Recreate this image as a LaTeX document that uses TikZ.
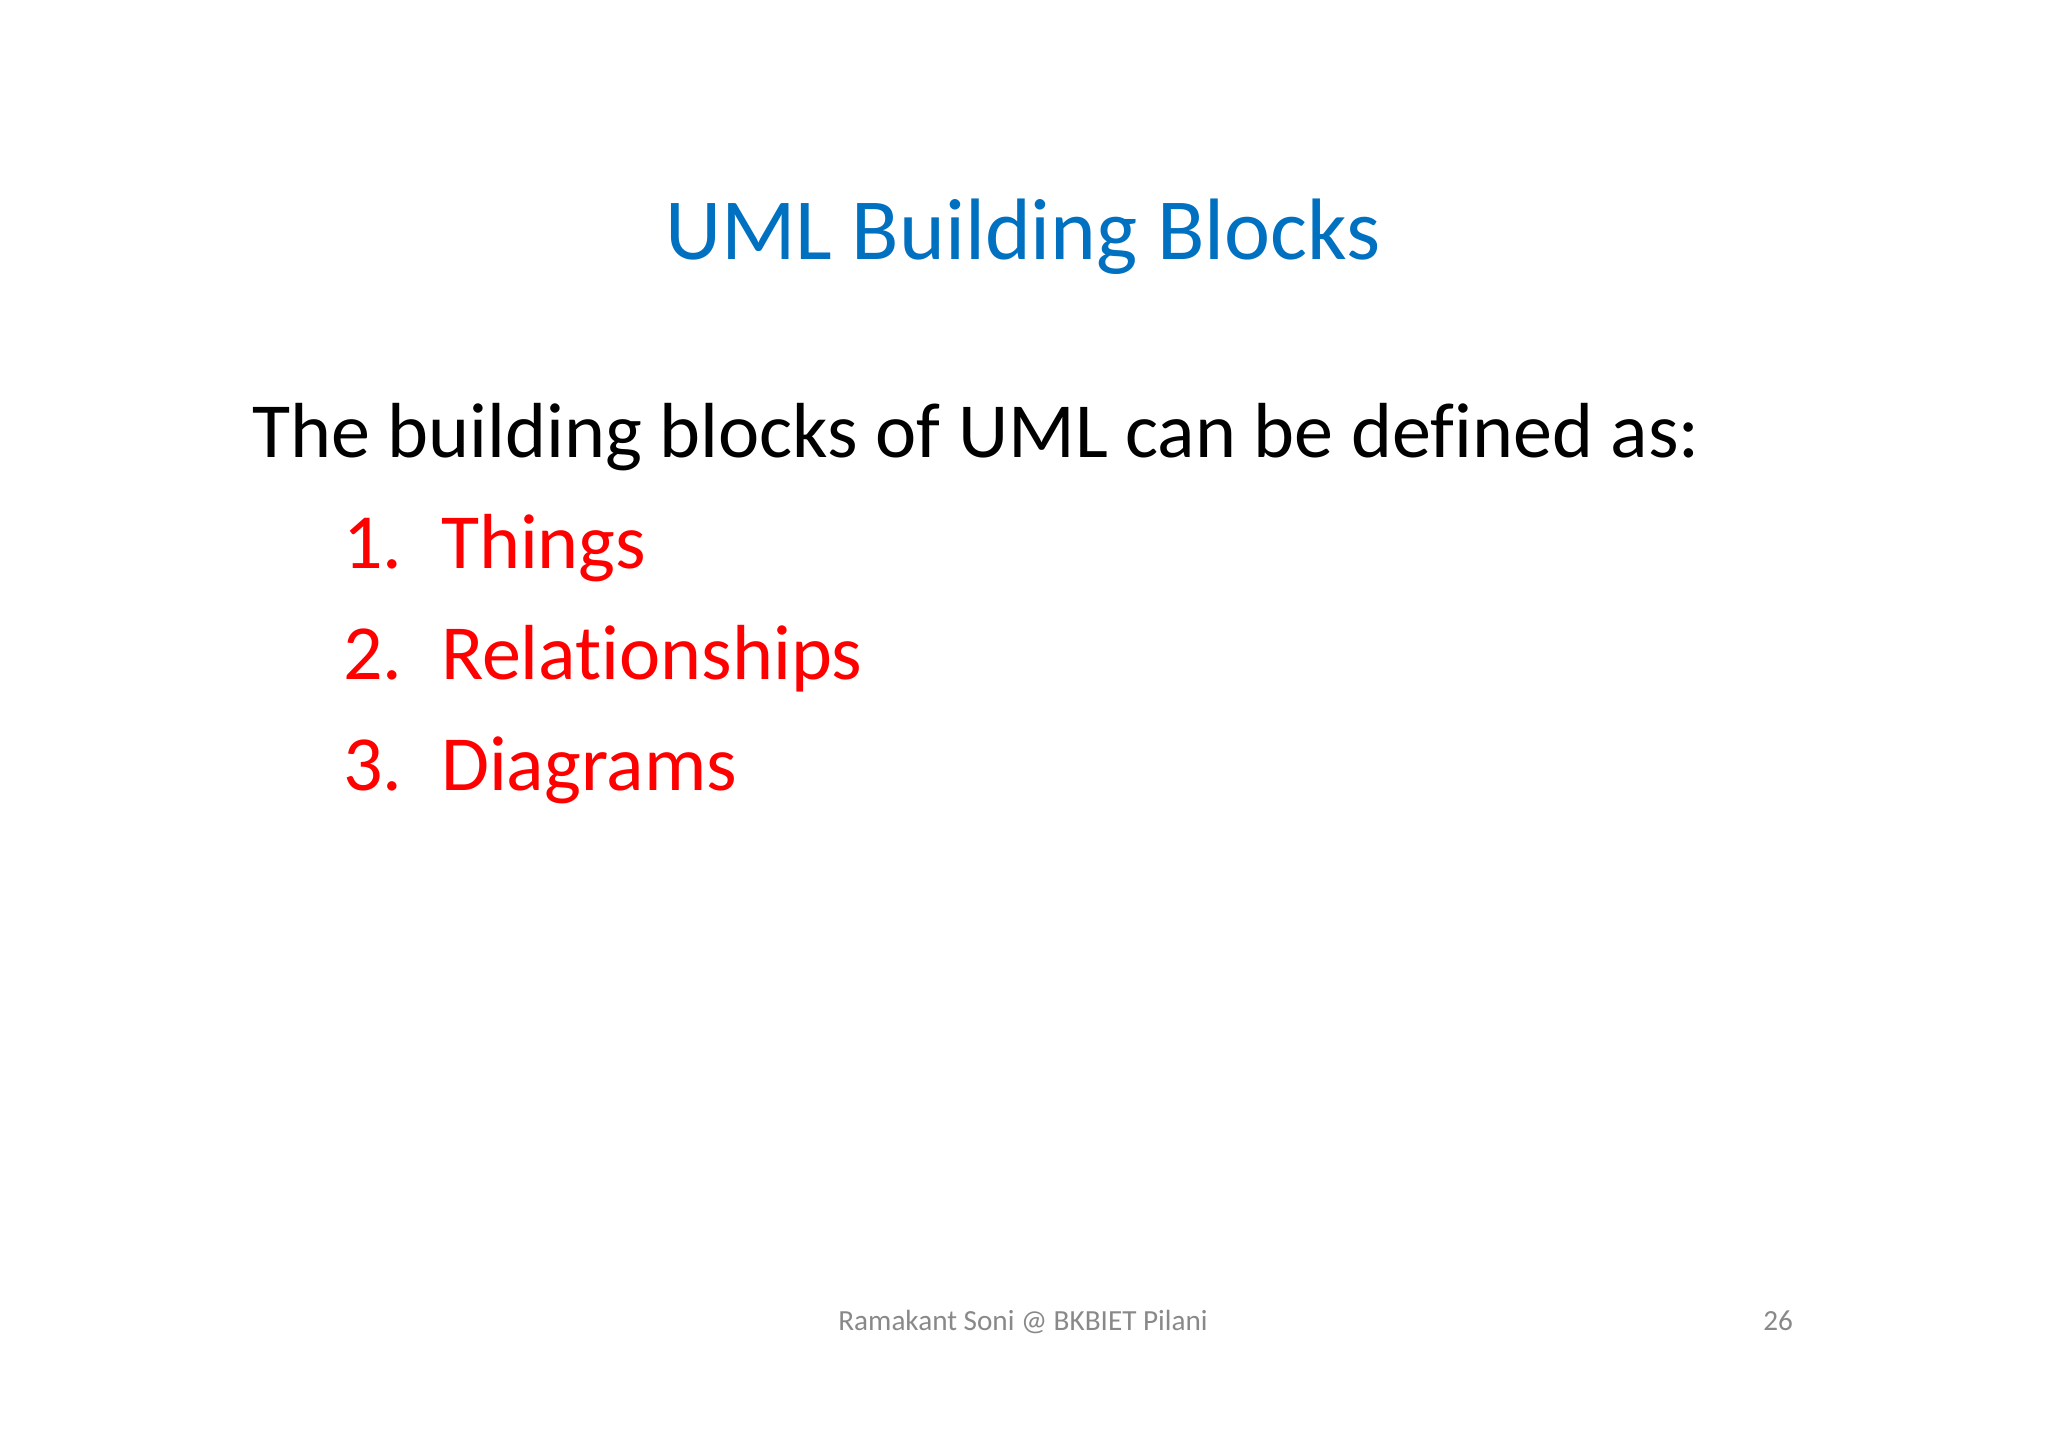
\documentclass[tikz,border=0pt]{standalone}
\usepackage{fontspec}
\setmainfont{Carlito}[RawFeature={-liga}]
\definecolor{titleblue}{HTML}{0070C0}
\definecolor{itemred}{HTML}{FF0000}
\definecolor{footgray}{HTML}{898989}
\begin{document}
\begin{tikzpicture}[x=0.01cm,y=-0.01cm,
  every node/.style={inner sep=0pt,outer sep=0pt},
  titletext/.style={font=\fontsize{24.8}{30}\selectfont,text=titleblue,anchor=base},
  bodytext/.style={font=\fontsize{22.2}{27}\selectfont,text=black,anchor=base west},
  itemtext/.style={font=\fontsize{22.2}{27}\selectfont,text=itemred,anchor=base west},
  foottext/.style={font=\fontsize{8.3}{10}\selectfont,text=footgray,anchor=base}]
\useasboundingbox[fill=white] (0,0) rectangle (2048,1448);
\node[titletext] (title) at (1023,259) {UML Building Blocks};
\node[bodytext] (intro) at (252,457) {The building blocks of UML can be defined as:};
\node[itemtext] (n1) at (343,568) {1.};
\node[itemtext] (t1) at (441,568) {Things};
\node[itemtext] (n2) at (343,679) {2.};
\node[itemtext] (t2) at (441,679) {Relationships};
\node[itemtext] (n3) at (343,790) {3.};
\node[itemtext] (t3) at (441,790) {Diagrams};
\node[foottext] (foot) at (1023,1330) {Ramakant Soni @ BKBIET Pilani};
\node[foottext,anchor=base east] (page) at (1793,1330) {26};
\end{tikzpicture}
\end{document}
